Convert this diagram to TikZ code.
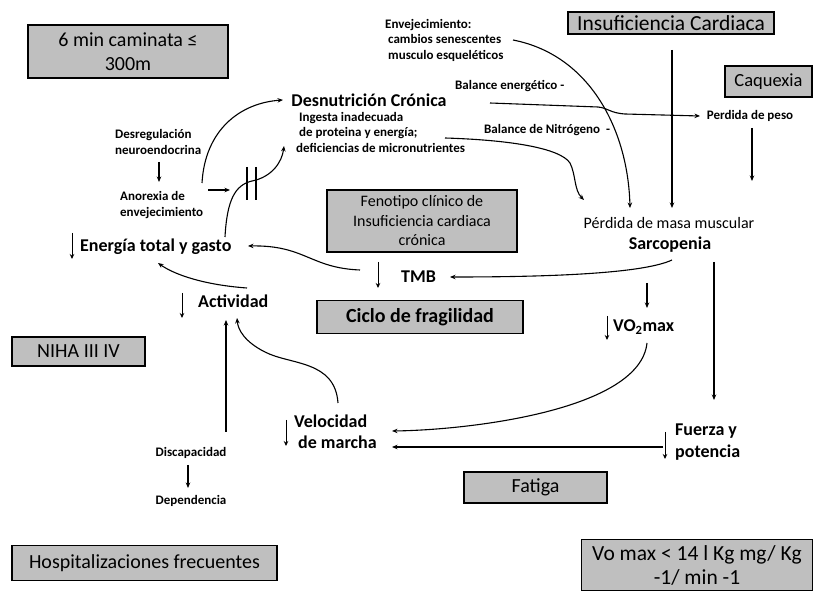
\documentclass[tikz,border=0pt]{standalone}
\usepackage{fontspec}
\setmainfont{Carlito}
\usetikzlibrary{arrows.meta}
\definecolor{boxgray}{RGB}{191,191,191}
\begin{document}
\begin{tikzpicture}[x=1pt,y=-1pt,
  box/.style={draw, line width=1.8pt, fill=boxgray, inner sep=0pt, align=center, font=\fontsize{20}{24}\selectfont},
  sb/.style={inner sep=0pt, align=left, font=\fontsize{13}{15.5}\selectfont\bfseries},
  mb/.style={inner sep=0pt, align=left, font=\fontsize{18}{21.5}\selectfont\bfseries},
  rg/.style={inner sep=0pt, align=center, font=\fontsize{16}{19.5}\selectfont},
  conn/.style={line width=1.1pt, -{Stealth[length=5.5pt,width=4.5pt]}},
  dnarrow/.style={line width=1pt, -{Stealth[length=5pt,width=4.5pt]}},
  hashline/.style={line width=1.1pt}
]
\useasboundingbox (0,0) rectangle (817,593);
\fill[white] (0,0) rectangle (817,593);

% ---------- boxes ----------
\node[box, minimum width=200, minimum height=53] (walk) at (128,51.5) {6 min caminata ≤\\300m};
\node[box, minimum width=206, minimum height=22, font=\fontsize{21.5}{24}\selectfont] (ic) at (671,23) {Insuficiencia Cardiaca};
\node[box, minimum width=87, minimum height=31, font=\fontsize{18.5}{22}\selectfont] (caq) at (768.5,81.5) {Caquexia};
\node[box, minimum width=190, minimum height=62, font=\fontsize{16}{19.5}\selectfont] (fen) at (422,221) {Fenotipo clínico de\\Insuficiencia cardiaca\\crónica};
\node[box, minimum width=206, minimum height=33, font=\fontsize{20}{22}\selectfont\bfseries] (ciclo) at (420,317) {Ciclo de fragilidad};
\node[box, minimum width=133, minimum height=29, font=\fontsize{20}{22}\selectfont] (niha) at (78.5,351.5) {NIHA III IV};
\node[box, minimum width=265, minimum height=35, font=\fontsize{20}{22}\selectfont] (hosp) at (144.5,563) {Hospitalizaciones frecuentes};
\node[box, minimum width=143, minimum height=31] (fat) at (535.5,487.5) {Fatiga};
\node[box, minimum width=231, minimum height=51, font=\fontsize{21.5}{24}\selectfont] (vo) at (697,565) {Vo max < 14 l Kg mg/ Kg\\-1/ min -1};

% ---------- text nodes ----------
\node[sb, anchor=west] (env) at (385,40) {Envejecimiento:\\\hspace{3pt}cambios senescentes\\\hspace{3pt}musculo esqueléticos};
\node[mb, anchor=center] (desn) at (369,100) {Desnutrición Crónica};
\node[sb, anchor=west] (ing) at (296,132) {\hspace{3pt}Ingesta inadecuada\\\hspace{3pt}de proteina y energía;\\deficiencias de micronutrientes};
\node[sb, anchor=west] (bal1) at (455,86) {Balance energético -};
\node[sb, anchor=west] (bal2) at (484,130) {Balance de Nitrógeno\ \ -};
\node[sb, anchor=center] (peso) at (750,116) {Perdida de peso};
\node[sb, anchor=west] (desreg) at (115,142) {Desregulación\\neuroendocrina};
\node[sb, anchor=west] (anor) at (120,205) {Anorexia de\\envejecimiento};
\node[mb, anchor=west] (energia) at (80,247) {Energía total y gasto};
\node[mb, anchor=west] (tmb) at (401,277) {TMB};
\node[rg] (perd) at (669,223) {Pérdida de masa muscular};
\node[mb, anchor=center] (sarc) at (670,245) {Sarcopenia};
\node[mb, anchor=west] (vo2) at (613,327) {VO\textsubscript{2}max};
\node[mb, anchor=west] (activ) at (198,301) {Actividad};
\node[mb, anchor=west] (veloc) at (294,432) {Velocidad\\\hspace{4pt}de marcha};
\node[mb, anchor=west] (fuerza) at (675,442) {Fuerza y\\potencia};
\node[sb, anchor=center] (discap) at (191,453) {Discapacidad};
\node[sb, anchor=center] (depend) at (191,501) {Dependencia};

% ---------- named end points ----------
\coordinate (anorR) at (202,183);
\coordinate (desnL) at (283,100);
\coordinate (enerT) at (225,237);
\coordinate (ingL) at (284,146);
\coordinate (envR) at (513,40);
\coordinate (perdA) at (630,208);
\coordinate (icB) at (672,50);
\coordinate (perdB) at (672,208);
\coordinate (bal1L) at (490,103);
\coordinate (pesoL) at (700,116);
\coordinate (ingR) at (445,138);
\coordinate (perdC) at (584,200);
\coordinate (pesoB) at (752,128);
\coordinate (pesoEnd) at (752,181);
\coordinate (sarcB) at (672,260);
\coordinate (tmbR) at (450,277);
\coordinate (tmbL) at (360,270);
\coordinate (enerR) at (248,246);
\coordinate (activR) at (247,288);
\coordinate (enerB) at (158,263);
\coordinate (sarcR) at (714,262);
\coordinate (fuerzaT) at (714,400);
\coordinate (sarcV) at (647,283);
\coordinate (vo2T) at (647,308);
\coordinate (vo2B) at (647,343);
\coordinate (velR1) at (392,431);
\coordinate (fuerzaL) at (663,447);
\coordinate (velR2) at (392,447);
\coordinate (velT) at (338,403);
\coordinate (activB2) at (237,318);
\coordinate (discT) at (226,432);
\coordinate (activB1) at (226,320);
\coordinate (discB) at (188,465);
\coordinate (depT) at (188,488);
\coordinate (desregB) at (159,162);
\coordinate (anorT) at (159,182);
\coordinate (anorA) at (208,190);
\coordinate (anorB) at (230,190);

% ---------- connectors ----------
\draw[conn] (anorR) .. controls (205,130) and (240,103) .. (desnL);
\draw[conn] (enerT) .. controls (227,200) and (235,185) .. (252,181) .. controls (272,177) and (282,162) .. (ingL);
\draw[hashline] (247,167) -- (247,200);
\draw[hashline] (256,167) -- (256,200);
\draw[conn] (envR) .. controls (590,55) and (628,130) .. (perdA);
\draw[conn] (icB) -- (perdB);
\draw[conn] (bal1L) -- (598,107) .. controls (608,108) and (610,113) .. (625,114) -- (pesoL);
\draw[conn] (ingR) .. controls (510,140) and (560,148) .. (570,163) .. controls (576,175) and (574,190) .. (perdC);
\draw[conn] (pesoB) -- (pesoEnd);
\draw[conn] (sarcB) .. controls (640,275) and (530,277) .. (tmbR);
\draw[conn] (tmbL) .. controls (310,268) and (305,245) .. (enerR);
\draw[conn] (activR) .. controls (205,285) and (175,275) .. (enerB);
\draw[conn] (sarcR) -- (fuerzaT);
\draw[conn] (sarcV) -- (vo2T);
\draw[conn] (vo2B) .. controls (640,410) and (470,430) .. (velR1);
\draw[conn] (fuerzaL) -- (velR2);
\draw[conn] (velT) .. controls (335,360) and (290,365) .. (265,352) .. controls (245,342) and (238,330) .. (activB2);
\draw[conn] (discT) -- (activB1);
\draw[conn] (discB) -- (depT);
\draw[conn] (desregB) -- (anorT);
\draw[conn] (anorA) -- (anorB);

% ---------- down markers ----------
\draw[dnarrow] (72,233) -- (72,259);
\draw[dnarrow] (378,262) -- (378,288);
\draw[dnarrow] (182,293) -- (182,318);
\draw[dnarrow] (607,316) -- (607,340);
\draw[dnarrow] (286,420) -- (286,446);
\draw[dnarrow] (665,432) -- (665,459);
\end{tikzpicture}
\end{document}
